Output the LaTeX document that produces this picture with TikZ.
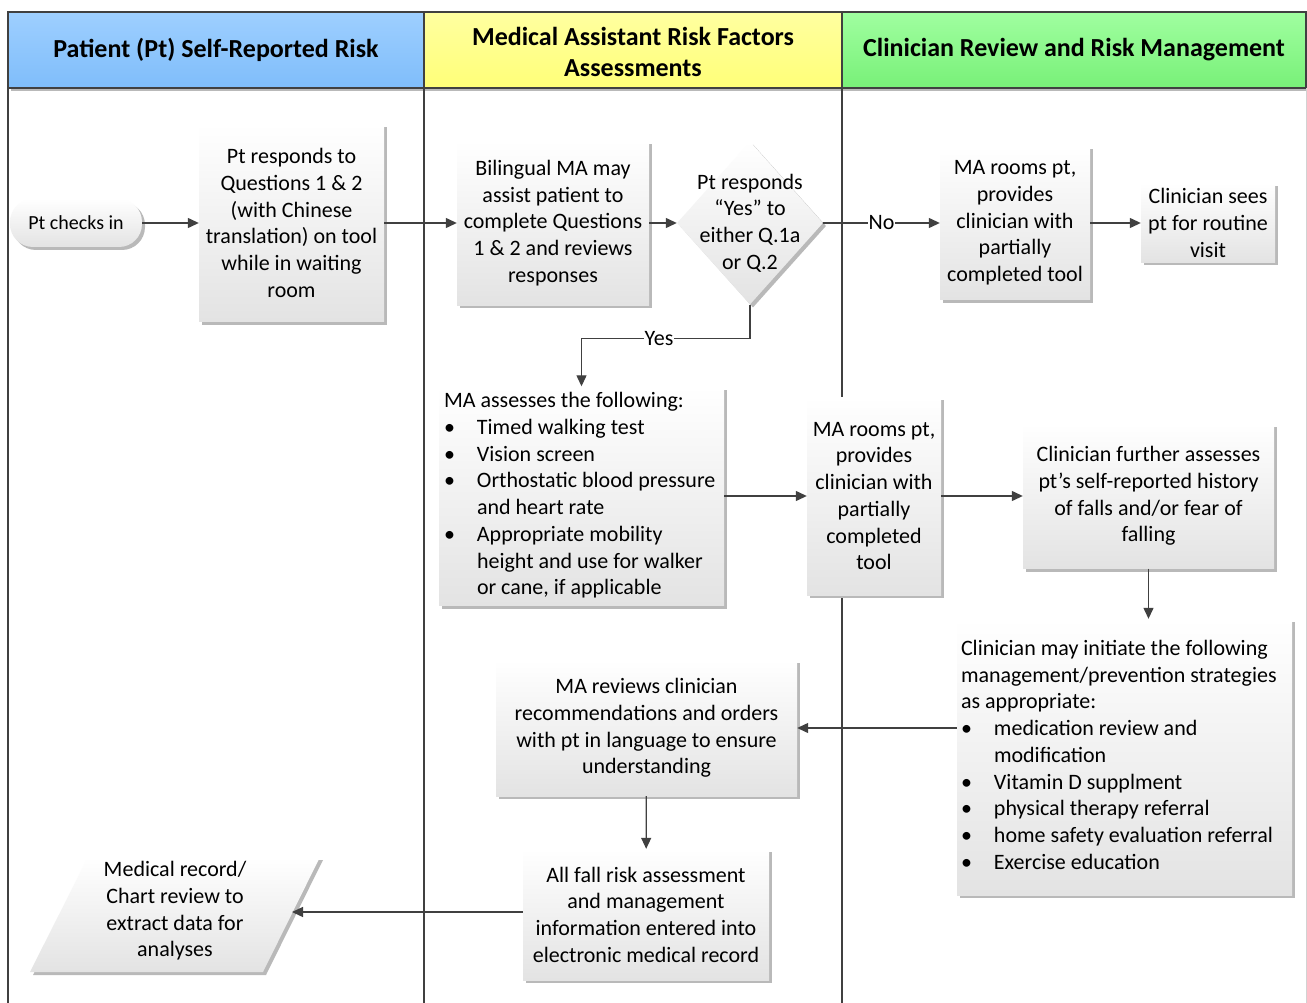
\documentclass[tikz,border=0pt]{standalone}
\usepackage{fontspec}
\setmainfont{Carlito}
\usetikzlibrary{shapes.geometric,shadows,arrows.meta}
\definecolor{linec}{HTML}{404040}
\definecolor{blueA}{HTML}{9ECFFF}
\definecolor{blueB}{HTML}{7FBDFA}
\definecolor{yelA}{HTML}{FFFFA0}
\definecolor{yelB}{HTML}{FFFF78}
\definecolor{grnA}{HTML}{A0FFA0}
\definecolor{grnB}{HTML}{78F078}
\begin{document}
\begin{tikzpicture}[x=1pt,y=-1pt,
  shade/.style={top color=white, bottom color=gray!22,
    drop shadow={shadow xshift=3pt,shadow yshift=-3pt,fill=gray!55,opacity=1}},
  box/.style={shade, rectangle, inner sep=0pt, align=center,
    font=\fontsize{22}{26.7}\selectfont, text=black},
  txt/.style={inner sep=0pt, align=center, font=\fontsize{22}{26.7}\selectfont, text=black},
  hdr/.style={inner sep=0pt, align=center, font=\fontsize{26}{31}\selectfont\bfseries, text=black},
  conn/.style={draw=linec, line width=1.3pt, -{Triangle[length=11pt,width=10pt]}},
  lbl/.style={fill=white, inner sep=1pt, font=\fontsize{22}{24}\selectfont, text=black},
  lane/.style={draw=linec, line width=1.2pt}]
\useasboundingbox (0,0) rectangle (1307,1003);
\fill[white] (0,0) rectangle (1307,1003);
% headers
\shade[top color=blueA, bottom color=blueB] (8,12) rectangle (424,88);
\shade[top color=yelA, bottom color=yelB] (424,12) rectangle (842,88);
\shade[top color=grnA, bottom color=grnB] (842,12) rectangle (1306,88);
\draw[lane] (8,1003) -- (8,12) -- (1306,12) -- (1306,88);
\draw[draw=gray!35, line width=1pt] (1306,88) -- (1306,1003);
\draw[lane] (8,88) -- (1306,88);
\draw[lane] (424,12) -- (424,1003);
\draw[lane] (842,12) -- (842,1003);
\node[hdr] (h1) at (216,50) {Patient (Pt) Self-Reported Risk};
\node[hdr] (h2) at (633,51.5) {Medical Assistant Risk Factors\\Assessments};
\node[hdr] (h3) at (1074,50) {Clinician Review and Risk Management};

% row 1
\node[box, font=\fontsize{20}{26.7}\selectfont, rounded corners=23pt, minimum width=132pt, minimum height=48pt] (checkin) at (76,223) {Pt checks in};
\node[box, minimum width=185pt, minimum height=197pt] (resp) at (291.5,223) {Pt responds to\\Questions 1 \& 2\\(with Chinese\\translation) on tool\\while in waiting\\room};
\node[box, minimum width=192pt, minimum height=164pt] (biling) at (553,223) {Bilingual MA may\\assist patient to\\complete Questions\\1 \& 2 and reviews\\responses};
\node[shade, diamond, inner sep=0pt, minimum width=146pt, minimum height=163pt] (dia) at (750,223) {};
\node[txt] (diatext) at (dia) {Pt responds\\“Yes” to\\either Q.1a\\or Q.2};
\node[box, minimum width=150pt, minimum height=153pt] (rooms1) at (1015,223) {MA rooms pt,\\provides\\clinician with\\partially\\completed tool};
\node[box, minimum width=134pt, minimum height=79pt] (sees) at (1208,223) {Clinician sees\\pt for routine\\visit};

% row 2
\node[box, minimum width=285pt, minimum height=219pt] (assess) at (581.5,496) {%
\makebox[275pt][l]{\begin{tabular}{@{}p{33pt}@{}l@{}}
\multicolumn{2}{@{}l@{}}{MA assesses the following:}\\
\textbullet & Timed walking test\\
\textbullet & Vision screen\\
\textbullet & Orthostatic blood pressure\\
 & and heart rate\\
\textbullet & Appropriate mobility\\
 & height and use for walker\\
 & or cane, if applicable
\end{tabular}}};
\node[box, minimum width=134pt, minimum height=198pt] (rooms2) at (874,496) {MA rooms pt,\\provides\\clinician with\\partially\\completed\\tool};
\node[box, minimum width=251pt, minimum height=145pt] (further) at (1148.5,496) {Clinician further assesses\\pt’s self-reported history\\of falls and/or fear of\\falling};

% row 3
\node[box, minimum width=335pt, minimum height=276pt] (initiate) at (1124.5,757) {%
\makebox[327pt][l]{\begin{tabular}{@{}p{33pt}@{}l@{}}
\multicolumn{2}{@{}l@{}}{Clinician may initiate the following}\\
\multicolumn{2}{@{}l@{}}{management/prevention strategies}\\
\multicolumn{2}{@{}l@{}}{as appropriate:}\\
\textbullet & medication review and\\
 & modification\\
\textbullet & Vitamin D supplment\\
\textbullet & physical therapy referral\\
\textbullet & home safety evaluation referral\\
\textbullet & Exercise education
\end{tabular}}};
\node[box, minimum width=301pt, minimum height=136pt] (reviews) at (646.5,728) {MA reviews clinician\\recommendations and orders\\with pt in language to ensure\\understanding};
\node[box, minimum width=246pt, minimum height=131pt] (allfall) at (646,914.5) {All fall risk assessment\\and management\\information entered into\\electronic medical record};

% parallelogram
\path[shade] (30,972) -- (88,857) -- (320,857) -- (263,972) -- cycle;
\node[txt] (record) at (175,911) {Medical record/\\Chart review to\\extract data for\\analyses};
\coordinate (recordE) at (292,912);

% connectors
\draw[conn] (checkin) -- (resp);
\draw[conn] (resp) -- (biling);
\draw[conn] (biling) -- (dia);
\draw[conn] (dia.east) -- node[lbl, pos=0.5]{No} (rooms1.west);
\draw[conn] (rooms1) -- (sees);
\draw[conn] (dia.south) -- ++(0,34) -| node[lbl, pos=0.27]{Yes} (assess.north);
\draw[conn] (assess) -- (rooms2);
\draw[conn] (rooms2) -- (further);
\draw[conn] (further.south) -- (further.south |- initiate.north);
\draw[conn] (initiate.west |- reviews.east) -- (reviews.east);
\draw[conn] (reviews) -- (allfall);
\draw[conn] (allfall.west |- recordE) -- (recordE);
\end{tikzpicture}
\end{document}
